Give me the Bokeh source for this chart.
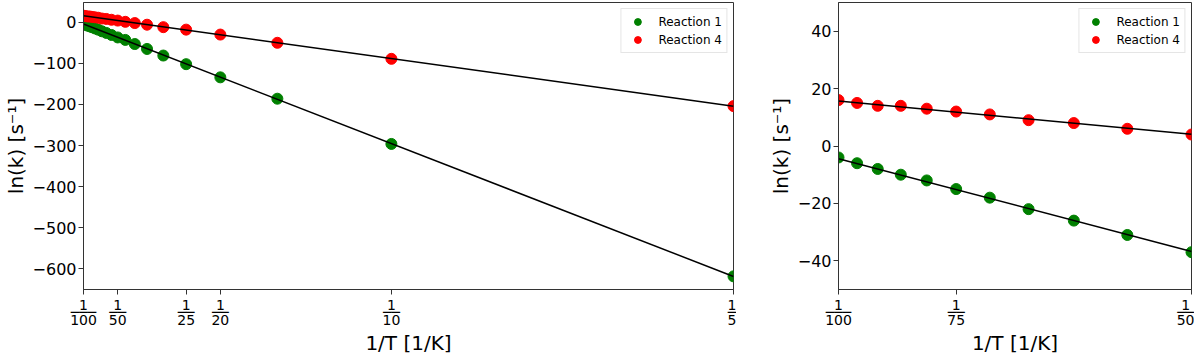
import numpy as np
from bokeh.plotting import figure
from bokeh.layouts import row
from bokeh.models import Range1d, FixedTicker, Legend, LegendItem
from bokeh.embed import file_html
from bokeh.resources import INLINE

# ---- data ----
T = [100, 95, 90, 85, 80, 75, 70, 65, 60, 55, 50, 45, 40, 35, 30, 25, 20, 15, 10, 5]
ln_k_r1 = [-4, -6, -8, -10, -12, -15, -18, -22, -26, -31, -37, -43, -53, -65, -81, -102, -134, -186, -296, -618]
ln_k_r4 = [16, 15, 14, 14, 13, 12, 11, 9, 8, 6, 4, 1, -2, -6, -12, -18, -30, -50, -89, -204]
series_names = ["Reaction 1", "Reaction 4"]
series_colors = ["green", "red"]

left_xtick_T = [100, 50, 25, 20, 10, 5]
right_xtick_T = [100, 75, 50]
left_yticks = [0, -100, -200, -300, -400, -500, -600]
right_yticks = [-40, -20, 0, 20, 40]
zoom_T_min = 50  # right panel shows T >= 50

FONT = "DejaVu Sans"
inv_T = 1.0 / np.array(T, dtype=float)
series = [np.array(ln_k_r1, dtype=float), np.array(ln_k_r4, dtype=float)]
fits = [np.polyfit(inv_T, s, 1) for s in series]


def frac_label(d):
    return "1\n" + "\u2500" * len(str(d)) + "\n" + str(d)


def make_panel(width, height, xr, yr, xtick_T, yticks, mask, border_left, border_right):
    p = figure(width=width, height=height, output_backend="svg", toolbar_location=None,
               x_range=Range1d(*xr), y_range=Range1d(*yr),
               min_border_left=border_left, min_border_right=border_right,
               min_border_top=2, min_border_bottom=50)
    p.background_fill_color = "white"
    p.border_fill_color = "white"
    p.grid.visible = False
    p.outline_line_color = "#333333"
    p.outline_line_width = 1

    items = []
    for s, fit, name, col in zip(series, fits, series_names, series_colors):
        xs = inv_T[mask]
        r = p.scatter(xs, s[mask], size=11, color=col, line_color=col)
        xl = np.array([xs.min(), xs.max()])
        p.line(xl, np.polyval(fit, xl), line_color="black", line_width=1.5)
        items.append(LegendItem(label=name, renderers=[r]))

    leg = Legend(items=items, location="top_right", margin=6, padding=4, spacing=1,
                 label_text_font=FONT, label_text_font_size="12px", label_text_color="black",
                 glyph_width=24, glyph_height=17, label_height=17, label_standoff=9,
                 border_line_color="#cccccc", border_line_width=1,
                 background_fill_alpha=0.8)
    p.add_layout(leg)

    xt = [1.0 / d for d in xtick_T]
    p.xaxis.ticker = FixedTicker(ticks=xt)
    p.xaxis.major_label_overrides = {v: frac_label(d) for v, d in zip(xt, xtick_T)}
    p.xaxis.major_label_text_font = FONT
    p.xaxis.major_label_text_font_size = "14px"
    p.xaxis.major_label_text_line_height = 0.49
    p.xaxis.major_label_standoff = 2
    p.xaxis.axis_label = "1/T [1/K]"
    p.xaxis.axis_label_standoff = 0

    p.yaxis.ticker = FixedTicker(ticks=yticks)
    p.yaxis.major_label_overrides = {v: str(v).replace("-", "\u2212") for v in yticks}
    p.yaxis.major_label_text_font = FONT
    p.yaxis.major_label_text_font_size = "16px"
    p.yaxis.major_label_standoff = 2
    p.yaxis.axis_label = "ln(k) [s\u207b\u00b9]"
    p.yaxis.axis_label_standoff = 2

    for ax in (p.xaxis[0], p.yaxis[0]):
        ax.axis_label_text_font = FONT
        ax.axis_label_text_font_size = "20px"
        ax.axis_label_text_font_style = "normal"
        ax.axis_label_text_color = "black"
        ax.major_label_text_color = "black"
        ax.axis_line_color = "#333333"
        ax.major_tick_line_color = "#333333"
        ax.major_tick_out = 5
        ax.major_tick_in = 0
        ax.minor_tick_line_color = None
    return p


mask_all = np.ones(len(T), dtype=bool)
mask_zoom = np.array(T) >= zoom_T_min

p1 = make_panel(736, 358, (1.0 / 100, 1.0 / 5), (-650, 48), left_xtick_T, left_yticks,
                mask_all, 83, 3)
p2 = make_panel(458, 358, (1.0 / 100, 1.0 / 50), (-50, 50), right_xtick_T, right_yticks,
                mask_zoom, 102, 3)

layout = row(p1, p2)
open("out.html", "w").write(file_html(layout, INLINE))
